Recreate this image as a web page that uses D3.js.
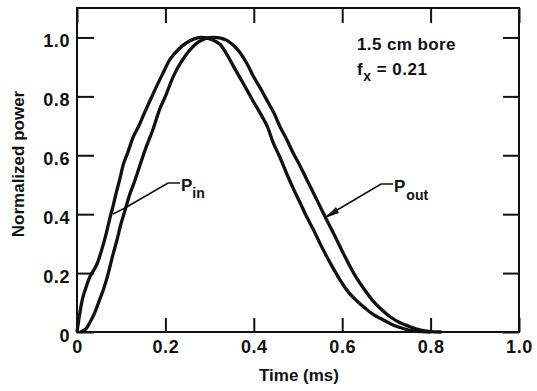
<!DOCTYPE html>
<html>
<head>
<meta charset="utf-8">
<script src="https://cdn.jsdelivr.net/npm/d3@7"></script>
<style>
  html, body { margin: 0; padding: 0; background: #fff; }
  svg { display: block; }
  text { font-family: "Liberation Sans", Arial, Helvetica, sans-serif; font-weight: bold; fill: #111; }
</style>
</head>
<body>
<script>
// ---- data ----
const tIn = [0, 0.006, 0.012, 0.02, 0.03, 0.038, 0.045, 0.052, 0.06, 0.067, 0.075, 0.082, 0.09, 0.097, 0.105, 0.115, 0.128, 0.14, 0.15, 0.165, 0.18, 0.195, 0.21, 0.23, 0.248, 0.265, 0.28, 0.295, 0.31, 0.324, 0.34, 0.354, 0.37, 0.384, 0.40, 0.414, 0.43, 0.444, 0.46, 0.474, 0.49, 0.505, 0.52, 0.535, 0.55, 0.565, 0.58, 0.595, 0.61, 0.63, 0.648, 0.67, 0.693, 0.715, 0.738, 0.76, 0.78, 0.80];
const pIn = [0, 0.06, 0.11, 0.15, 0.19, 0.21, 0.23, 0.26, 0.30, 0.34, 0.39, 0.43, 0.48, 0.52, 0.57, 0.61, 0.665, 0.70, 0.735, 0.785, 0.834, 0.88, 0.925, 0.96, 0.982, 0.995, 1.0, 0.998, 0.99, 0.976, 0.94, 0.902, 0.86, 0.823, 0.78, 0.744, 0.70, 0.642, 0.59, 0.539, 0.485, 0.438, 0.39, 0.347, 0.30, 0.256, 0.215, 0.177, 0.143, 0.11, 0.086, 0.06, 0.041, 0.024, 0.012, 0.004, 0.001, 0];
const tOut = [0.008, 0.02, 0.03, 0.04, 0.05, 0.06, 0.07, 0.08, 0.09, 0.10, 0.11, 0.12, 0.13, 0.14, 0.157, 0.17, 0.188, 0.20, 0.218, 0.235, 0.256, 0.275, 0.293, 0.308, 0.325, 0.339, 0.355, 0.369, 0.385, 0.399, 0.414, 0.429, 0.445, 0.459, 0.475, 0.489, 0.505, 0.52, 0.535, 0.55, 0.565, 0.58, 0.595, 0.61, 0.63, 0.65, 0.67, 0.69, 0.71, 0.73, 0.753, 0.775, 0.80, 0.825];
const pOut = [0, 0.01, 0.035, 0.065, 0.105, 0.145, 0.195, 0.255, 0.31, 0.37, 0.42, 0.47, 0.51, 0.555, 0.63, 0.68, 0.76, 0.80, 0.868, 0.915, 0.959, 0.985, 0.998, 1.0, 0.998, 0.99, 0.972, 0.948, 0.91, 0.868, 0.83, 0.789, 0.745, 0.698, 0.652, 0.608, 0.563, 0.517, 0.472, 0.426, 0.38, 0.336, 0.29, 0.245, 0.19, 0.145, 0.105, 0.075, 0.05, 0.032, 0.018, 0.007, 0.001, 0];
const xTicks = [0, 0.2, 0.4, 0.6, 0.8, 1.0];
const xTickLabels = ["0", "0.2", "0.4", "0.6", "0.8", "1.0"];
const yTicks = [0, 0.2, 0.4, 0.6, 0.8, 1.0];
const yTickLabels = ["0", "0.2", "0.4", "0.6", "0.8", "1.0"];
const xTitle = "Time (ms)";
const yTitle = "Normalized power";
const noteLine1 = "1.5 cm bore";
const noteLine2 = ["f", "x", " = 0.21"];
const labelIn = ["P", "in"];
const labelOut = ["P", "out"];

// ---- layout ----
const W = 537, H = 391;
const L = 77, R = 519, T = 8, B = 332;

const svg = d3.select("body").append("svg").attr("width", W).attr("height", H);

const x = d3.scaleLinear().domain([0, 1]).range([L, R]);
const y = d3.scaleLinear().domain([0, 1.1]).range([B, T]);

// frame
svg.append("rect").attr("x", L).attr("y", T).attr("width", R - L).attr("height", B - T)
  .attr("fill", "none").attr("stroke", "#111").attr("stroke-width", 2);

function styleAxis(g) {
  g.select(".domain").remove();
  g.selectAll(".tick line").attr("stroke", "#111").attr("stroke-width", 2);
  g.selectAll(".tick text").attr("font-size", 18).attr("fill", "#111")
    .attr("letter-spacing", "0.6px")
    .attr("font-family", '"Liberation Sans", Arial, sans-serif').attr("font-weight", "bold");
}

svg.append("g").attr("transform", `translate(${L},0)`)
  .call(d3.axisLeft(y).tickValues(yTicks).tickFormat((d, i) => yTickLabels[i]).tickSize(-17).tickPadding(7))
  .call(styleAxis)
  .call(g => g.selectAll(".tick text").attr("dy", "0.5em"));
svg.append("g").attr("transform", `translate(0,${B})`)
  .call(d3.axisBottom(x).tickValues(xTicks).tickFormat((d, i) => xTickLabels[i]).tickSize(-14).tickPadding(8))
  .call(styleAxis);
svg.append("g").attr("transform", `translate(0,${T})`)
  .call(d3.axisTop(x).tickValues(xTicks).tickFormat("").tickSize(-15))
  .call(styleAxis);
svg.append("g").attr("transform", `translate(${R},0)`)
  .call(d3.axisRight(y).tickValues(yTicks).tickFormat("").tickSize(-16))
  .call(styleAxis);

// axis titles
svg.append("text").attr("x", (L + R) / 2 + 1).attr("y", 381).attr("text-anchor", "middle")
  .attr("font-size", 17).text(xTitle);
svg.append("text").attr("transform", `translate(24,${(T + B) / 2 - 6}) rotate(-90)`)
  .attr("text-anchor", "middle").attr("font-size", 17).text(yTitle);

// curves
const line = d3.line().x(d => x(d[0])).y(d => y(d[1])).curve(d3.curveCatmullRom.alpha(0.5));
const dataIn = tIn.map((t, i) => [t, pIn[i]]);
const dataOut = tOut.map((t, i) => [t, pOut[i]]);
svg.append("path").datum(dataIn).attr("d", line).attr("fill", "none")
  .attr("stroke", "#111").attr("stroke-width", 3.3).attr("stroke-linejoin", "round");
svg.append("path").datum(dataOut).attr("d", line).attr("fill", "none")
  .attr("stroke", "#111").attr("stroke-width", 3.3).attr("stroke-linejoin", "round");

// annotation
svg.append("text").attr("x", 357).attr("y", 50).attr("font-size", 17)
  .attr("letter-spacing", "0.4px").text(noteLine1);
const n2 = svg.append("text").attr("x", 357).attr("y", 75).attr("font-size", 17)
  .attr("letter-spacing", "0.5px");
n2.append("tspan").text(noteLine2[0]);
n2.append("tspan").attr("dy", 6).attr("font-size", 14).text(noteLine2[1]);
n2.append("tspan").attr("dy", -6).text(noteLine2[2]);

// P_in label + leader
const li = svg.append("text").attr("x", 181).attr("y", 191).attr("font-size", 17);
li.append("tspan").text(labelIn[0]);
li.append("tspan").attr("dy", 7).attr("dx", 0).attr("font-size", 14).text(labelIn[1]);
svg.append("path")
  .attr("d", d3.line()([[180, 183], [168, 183], [125, 208], [113, 214]]))
  .attr("fill", "none").attr("stroke", "#111").attr("stroke-width", 1.6);

// P_out label + leader with arrowhead
const lo = svg.append("text").attr("x", 394).attr("y", 192).attr("font-size", 17);
lo.append("tspan").text(labelOut[0]);
lo.append("tspan").attr("dy", 8).attr("dx", 1).attr("font-size", 14).text(labelOut[1]);
svg.append("path")
  .attr("d", d3.line()([[393, 184], [381, 184], [327, 216]]))
  .attr("fill", "none").attr("stroke", "#111").attr("stroke-width", 1.6);
svg.append("path")
  .attr("d", d3.line()([[325, 218], [336, 207], [339, 213]]) + "Z")
  .attr("fill", "#111").attr("stroke", "none");
</script>
</body>
</html>
